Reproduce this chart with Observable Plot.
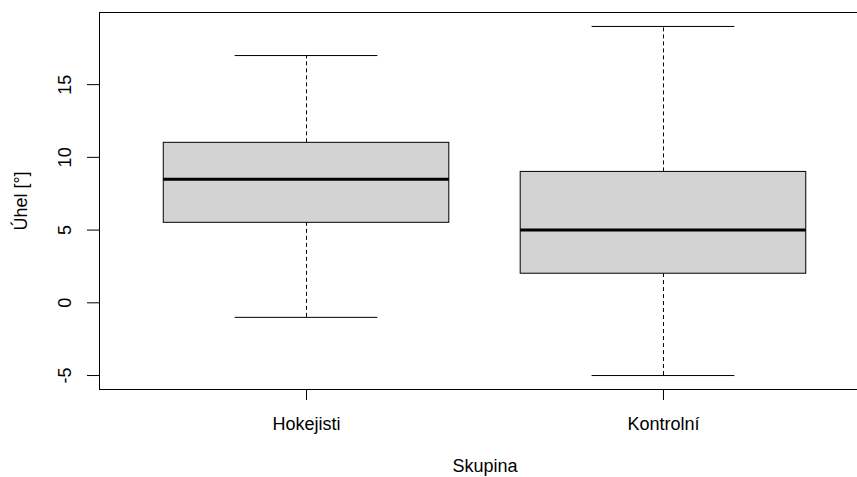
<!DOCTYPE html>
<html>
<head>
<meta charset="utf-8">
<script src="https://cdn.jsdelivr.net/npm/d3@7"></script>
<script src="https://cdn.jsdelivr.net/npm/@observablehq/plot@0.6"></script>
<style>
  html, body { margin: 0; padding: 0; background: white; overflow: hidden; }
  #chart svg { display: block; }
</style>
</head>
<body>
<div id="chart"></div>
<script>
// Data
const groups = ["Hokejisti", "Kontrolní"];
const whiskerLow = [-1, -5];
const q1 = [5.5, 2];
const medians = [8.5, 5];
const q3 = [11, 9];
const whiskerHigh = [17, 19];
const yTicks = [-5, 0, 5, 10, 15];
const xTitle = "Skupina";
const yTitle = "Úhel [°]";

const rows = groups.map((g, i) => ({
  group: g, pos: i + 1,
  lo: whiskerLow[i], q1: q1[i], med: medians[i], q3: q3[i], hi: whiskerHigh[i]
}));

const W = 857, H = 477;
const font = "'Liberation Sans', Arial, Helvetica, sans-serif";

const chart = Plot.plot({
  width: W,
  height: H,
  marginLeft: 99,
  marginRight: -13,
  marginTop: 12,
  marginBottom: 88,
  style: { fontFamily: font, fontSize: "18px", background: "white", color: "black" },
  x: { type: "linear", domain: [0.42, 2.58], axis: null },
  y: { domain: [-5.96, 19.96], axis: null },
  marks: [
    // whiskers (dashed)
    Plot.ruleX(rows, { x: "pos", y1: "q3", y2: "hi", stroke: "black", strokeWidth: 1, strokeDasharray: "4,3" }),
    Plot.ruleX(rows, { x: "pos", y1: "lo", y2: "q1", stroke: "black", strokeWidth: 1, strokeDasharray: "4,3" }),
    // whisker caps
    Plot.ruleY(rows, { y: "hi", x1: d => d.pos - 0.2, x2: d => d.pos + 0.2, stroke: "black", strokeWidth: 1 }),
    Plot.ruleY(rows, { y: "lo", x1: d => d.pos - 0.2, x2: d => d.pos + 0.2, stroke: "black", strokeWidth: 1 }),
    // boxes
    Plot.rect(rows, { x1: d => d.pos - 0.4, x2: d => d.pos + 0.4, y1: "q1", y2: "q3", fill: "#d3d3d3", stroke: "black", strokeWidth: 1 }),
    // medians
    Plot.ruleY(rows, { y: "med", x1: d => d.pos - 0.4, x2: d => d.pos + 0.4, stroke: "black", strokeWidth: 3 }),
    // frame
    Plot.frame({ stroke: "black", strokeWidth: 1 }),
    // y axis ticks
    Plot.axisY(yTicks, { tickSize: 12, tickFormat: () => "", stroke: "black", label: null }),
    Plot.text(yTicks, { y: d => d, text: d => String(d), frameAnchor: "left", dx: -34, rotate: -90, textAnchor: "middle", lineAnchor: "middle", fontSize: 18, fill: "black" }),
    // x axis ticks
    Plot.axisX(rows.map(d => d.pos), { tickSize: 11, tickFormat: () => "", stroke: "black", label: null }),
    Plot.text(rows, { x: "pos", text: "group", frameAnchor: "bottom", dy: 35, lineAnchor: "middle", fontSize: 18, fill: "black" }),
    // axis titles
    Plot.text([xTitle], { text: d => d, frameAnchor: "bottom", dy: 77, lineAnchor: "middle", fontSize: 18, fill: "black" }),
    Plot.text([yTitle], { text: d => d, frameAnchor: "left", dx: -78, rotate: -90, textAnchor: "middle", lineAnchor: "middle", fontSize: 18, fill: "black" })
  ]
});
document.getElementById("chart").appendChild(chart);
</script>
</body>
</html>
